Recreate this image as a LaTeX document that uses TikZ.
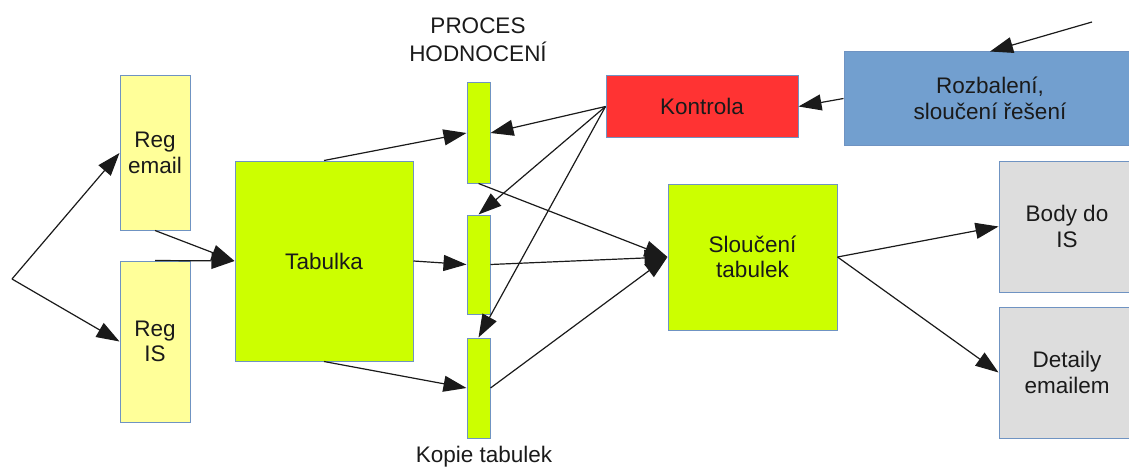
\documentclass[tikz,border=0pt]{standalone}
\usepackage{fontspec}
\setmainfont{Liberation Sans}
\usetikzlibrary{arrows.meta}
\definecolor{yel}{HTML}{FFFF99}
\definecolor{grn}{HTML}{CCFF00}
\definecolor{rd}{HTML}{FF3333}
\definecolor{blu}{HTML}{729FCF}
\definecolor{gry}{HTML}{DDDDDD}
\definecolor{edgec}{HTML}{6F93C2}
\definecolor{txt}{HTML}{1A1A1A}
\begin{document}
\begin{tikzpicture}[x=1pt,y=-1pt,
  box/.style={draw=edgec, line width=1pt, inner sep=0pt, align=center,
    font=\fontsize{22.5}{25.5}\selectfont, text=txt},
  conn/.style={line width=1.2pt, draw=txt, -{Triangle[length=23pt,width=16pt]}},
  lbl/.style={font=\fontsize{22.5}{28}\selectfont, align=center, text=txt, inner sep=0pt}]
\useasboundingbox (0,0) rectangle (1129,468);
% boxes
\node[box, fill=yel, minimum width=70pt, minimum height=154pt] (rege) at (155,153) {Reg\\email};
\node[box, fill=yel, minimum width=70pt, minimum height=161pt] (regi) at (155,341.5) {Reg\\IS};
\node[box, fill=grn, minimum width=178pt, minimum height=200pt] (tab) at (324,261) {Tabulka};
\node[box, fill=grn, minimum width=23pt, minimum height=100pt] (b1) at (478.5,133) {};
\node[box, fill=grn, minimum width=23pt, minimum height=99pt] (b2) at (478.5,264.5) {};
\node[box, fill=grn, minimum width=23pt, minimum height=100pt] (b3) at (478.5,388) {};
\node[box, fill=rd, minimum width=192pt, minimum height=61pt] (kon) at (702,106.5) {Kontrola};
\node[box, fill=grn, minimum width=169pt, minimum height=146pt] (slo) at (752.5,257) {Sloučení\\tabulek};
\node[box, fill=blu, minimum width=292pt, minimum height=93pt] (roz) at (990,98.5) {Rozbalení,\\sloučení řešení};
\node[box, fill=gry, minimum width=136pt, minimum height=131pt] (body) at (1067,226.5) {Body do\\IS};
\node[box, fill=gry, minimum width=136pt, minimum height=131pt] (det) at (1067,372.5) {Detaily\\emailem};
% labels
\node[lbl] (proc) at (478,40) {PROCES\\HODNOCENÍ};
\node[lbl, anchor=base] (kop) at (484,462) {Kopie tabulek};
% connectors
\coordinate (src) at (12,279);
\coordinate (topin) at (1092,22);
\draw[conn] (src) -- (rege.west);
\draw[conn] (src) -- (regi.west);
\draw[conn] (rege.south) -- (tab.west);
\draw[conn] (regi.north) -- (tab.west);
\draw[conn] (tab.north) -- (b1.west);
\draw[conn] (tab.east) -- (b2.west);
\draw[conn] (tab.south) -- (b3.west);
\draw[conn] (kon.west) -- (b1.east);
\draw[conn] (kon.west) -- (b2.north);
\draw[conn] (kon.west) -- (b3.north);
\draw[conn] (b1.south) -- (slo.west);
\draw[conn] (b2.east) -- (slo.west);
\draw[conn] (b3.east) -- (slo.west);
\draw[conn] (roz.west) -- (kon.east);
\draw[conn] (topin) -- (roz.north);
\draw[conn] (slo.east) -- (body.west);
\draw[conn] (slo.east) -- (det.west);
\end{tikzpicture}
\end{document}
